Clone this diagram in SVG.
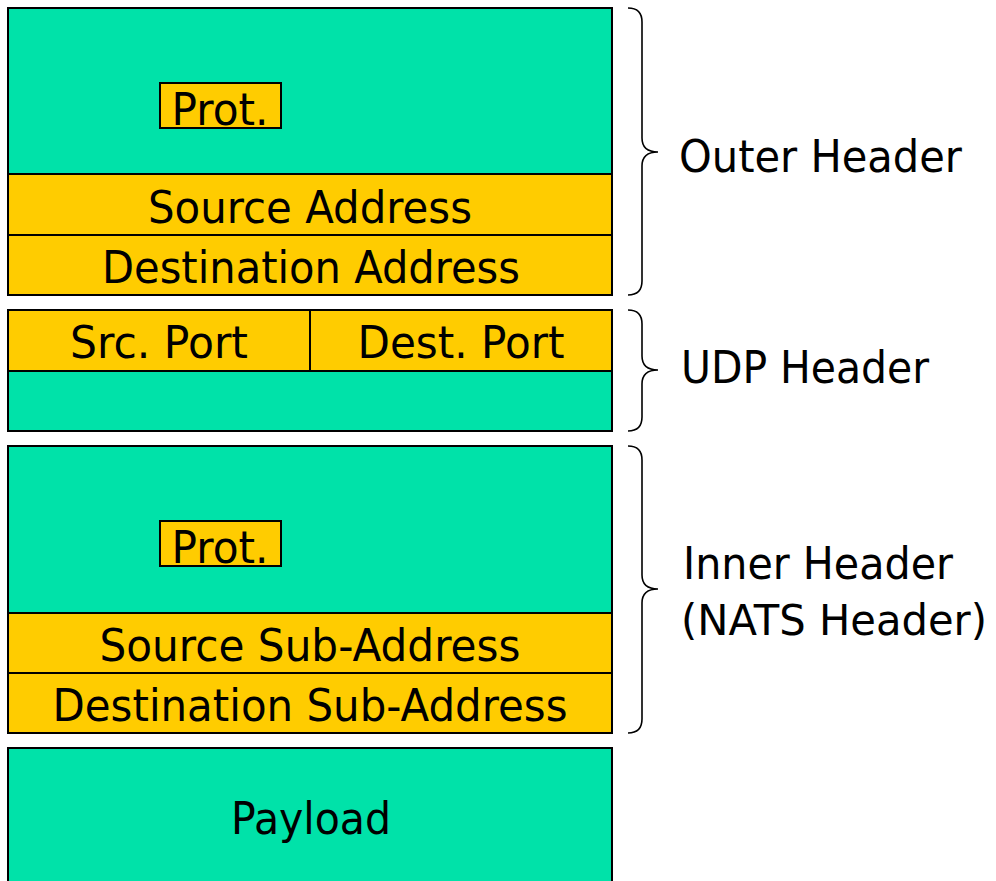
<svg xmlns="http://www.w3.org/2000/svg" width="996" height="881" viewBox="0 0 996 881">
<style>
.g{fill:#00E2A9;stroke:#000;stroke-width:2}
.y{fill:#FFCC00;stroke:#000;stroke-width:2}
.t{font-family:"DejaVu Sans","Liberation Sans",sans-serif;font-size:45px;fill:#000}
.m{text-anchor:middle}
.br{fill:none;stroke:#000;stroke-width:1.6}
</style>
<rect width="996" height="881" fill="#fff"/>
<g id="outer">
<rect class="g" x="8" y="8" width="604" height="166"/>
<g id="outer-prot"><rect class="y" x="160" y="83" width="121" height="45"/>
<text class="t m" x="220" y="125" textLength="97" lengthAdjust="spacingAndGlyphs">Prot.</text></g>
<g id="src-addr"><rect class="y" x="8" y="174" width="604" height="61"/>
<text class="t m" x="310" y="223" textLength="324" lengthAdjust="spacingAndGlyphs">Source Address</text></g>
<g id="dst-addr"><rect class="y" x="8" y="235" width="604" height="60"/>
<text class="t m" x="311" y="283" textLength="418" lengthAdjust="spacingAndGlyphs">Destination Address</text></g>
</g>
<g id="udp">
<rect class="g" x="8" y="310" width="604" height="121"/>
<g id="src-port"><rect class="y" x="8" y="310" width="302" height="61"/>
<text class="t m" x="159" y="358" textLength="178" lengthAdjust="spacingAndGlyphs">Src. Port</text></g>
<g id="dst-port"><rect class="y" x="310" y="310" width="302" height="61"/>
<text class="t m" x="461" y="358" textLength="207" lengthAdjust="spacingAndGlyphs">Dest. Port</text></g>
</g>
<g id="inner">
<rect class="g" x="8" y="446" width="604" height="167"/>
<g id="inner-prot"><rect class="y" x="160" y="521" width="121" height="45"/>
<text class="t m" x="220" y="563" textLength="97" lengthAdjust="spacingAndGlyphs">Prot.</text></g>
<g id="src-sub"><rect class="y" x="8" y="613" width="604" height="60"/>
<text class="t m" x="310" y="661" textLength="421" lengthAdjust="spacingAndGlyphs">Source Sub-Address</text></g>
<g id="dst-sub"><rect class="y" x="8" y="673" width="604" height="60"/>
<text class="t m" x="310" y="721" textLength="515" lengthAdjust="spacingAndGlyphs">Destination Sub-Address</text></g>
</g>
<g id="payload">
<rect class="g" x="8" y="748" width="604" height="150"/>
<text class="t m" x="311" y="834" textLength="160" lengthAdjust="spacingAndGlyphs">Payload</text>
</g>
<g id="braces">
<path class="br" d="M628,8 Q642,8 642,22 V138 Q642,152 658,152 Q642,152 642,166 V281 Q642,295 628,295"/>
<path class="br" d="M628,310 Q642,310 642,324 V356 Q642,370 658,370 Q642,370 642,384 V417 Q642,431 628,431"/>
<path class="br" d="M628,446 Q642,446 642,460 V575 Q642,589 658,589 Q642,589 642,603 V719 Q642,733 628,733"/>
</g>
<g id="labels">
<text class="t" x="679" y="172" textLength="283" lengthAdjust="spacingAndGlyphs">Outer Header</text>
<text class="t" x="681" y="383" textLength="248" lengthAdjust="spacingAndGlyphs">UDP Header</text>
<text class="t" x="683" y="579" textLength="270" lengthAdjust="spacingAndGlyphs">Inner Header</text>
<text class="t" x="681" y="635" style="font-size:42px" textLength="306" lengthAdjust="spacingAndGlyphs">(NATS Header)</text>
</g>
</svg>
